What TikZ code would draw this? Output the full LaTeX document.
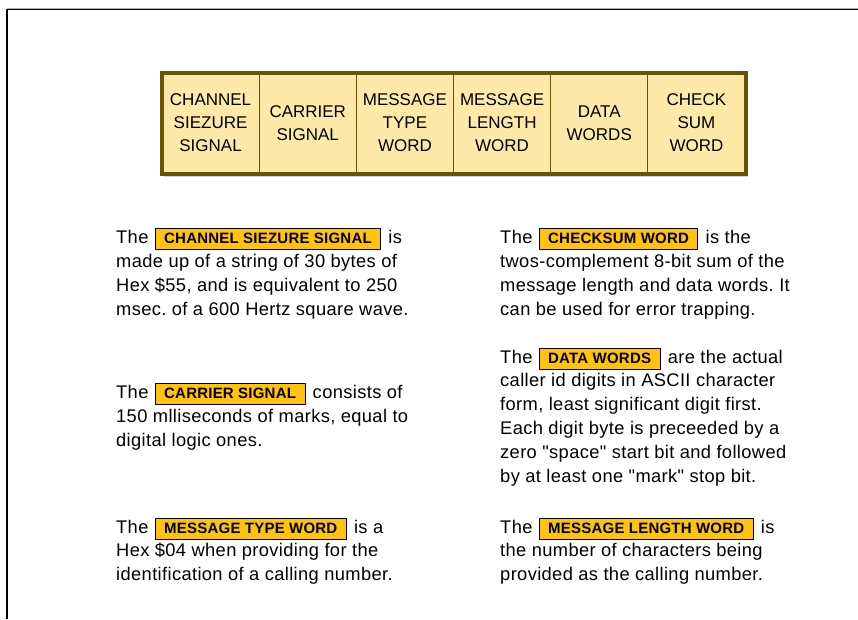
\documentclass[tikz,border=0pt]{standalone}
\usepackage{fontspec}
\setmainfont{Liberation Sans}
\newfontfamily\bodyfont[LetterSpace=2]{Liberation Sans}
\newfontfamily\labfont[LetterSpace=1.5]{Liberation Sans}
\definecolor{hdrfill}{RGB}{255,233,168}
\definecolor{hdrline}{RGB}{108,84,0}
\definecolor{labfill}{RGB}{255,194,14}
\frenchspacing
\tikzset{
  cell/.style={draw=hdrline, line width=1pt, fill=hdrfill, minimum width=97.17pt,
    minimum height=100pt, inner sep=0pt, align=center, font=\fontsize{17}{23}\selectfont},
  txt/.style={anchor=base west, inner sep=0pt, font=\bodyfont\fontsize{18.3}{23}\selectfont},
  lab/.style={anchor=base west, draw=black, line width=1pt, fill=labfill, inner xsep=9pt,
    inner ysep=4pt, text height=11pt, text depth=2pt, font=\labfont\fontsize{15}{18}\selectfont\bfseries},
}
\begin{document}
\begin{tikzpicture}[x=1pt,y=-1pt]
\useasboundingbox (0,0) rectangle (858,619);
% page frame
\draw[gray!60, line width=1pt] (7,8) -- (858,8);
\draw[black, line width=1.2pt] (7,619) -- (7,9.5) -- (858,9.5);
% header
\foreach \i/\t in {1/{CHANNEL\\SIEZURE\\SIGNAL},2/{CARRIER\\SIGNAL},3/{MESSAGE\\TYPE\\WORD},
                   4/{MESSAGE\\LENGTH\\WORD},5/{DATA\\WORDS},6/{CHECK\\SUM\\WORD}}{
  \node[cell] (c\i) at ({162+97.17*(\i-0.5)},123) {\t};
}
\draw[gray!35, line width=1.5pt] ([xshift=2pt,yshift=-3pt]c1.south west) -- ([xshift=2pt,yshift=-3pt]c6.south east);
\draw[hdrline, line width=4pt] (c1.north west) rectangle (c6.south east);

% Channel siezure signal
\node[txt] (a0) at (116,243) {The};
\node[lab, xshift=6pt] (al) at (a0.base east) {CHANNEL SIEZURE SIGNAL};
\node[txt, xshift=7pt] (ar) at (al.base east) {is};
\node[txt] (a1) at (116,267) {made up of a string of 30 bytes of};
\node[txt] (a2) at (116,291) {Hex \$55, and is equivalent to 250};
\node[txt] (a3) at (116,315) {msec. of a 600 Hertz square wave.};

% Checksum word
\node[txt] (b0) at (500,243) {The};
\node[lab, xshift=6pt] (bl) at (b0.base east) {CHECKSUM WORD};
\node[txt, xshift=7pt] (br) at (bl.base east) {is the};
\node[txt] (b1) at (500,267) {twos-complement 8-bit sum of the};
\node[txt] (b2) at (500,291) {message length and data words. It};
\node[txt] (b3) at (500,315) {can be used for error trapping.};

% Data words
\node[txt] (d0) at (500,363) {The};
\node[lab, xshift=6pt] (dl) at (d0.base east) {DATA WORDS};
\node[txt, xshift=7pt] (dr) at (dl.base east) {are the actual};
\node[txt] (d1) at (500,386.8) {caller id digits in ASCII character};
\node[txt] (d2) at (500,410.6) {form, least significant digit first.};
\node[txt] (d3) at (500,434.4) {Each digit byte is preceeded by a};
\node[txt] (d4) at (500,458.2) {zero {\char34}space{\char34} start bit and followed};
\node[txt] (d5) at (500,482) {by at least one {\char34}mark{\char34} stop bit.};

% Carrier signal
\node[txt] (e0) at (116,398) {The};
\node[lab, xshift=6pt] (el) at (e0.base east) {CARRIER SIGNAL};
\node[txt, xshift=7pt] (er) at (el.base east) {consists of};
\node[txt] (e1) at (116,422) {150 mlliseconds of marks, equal to};
\node[txt] (e2) at (116,446) {digital logic ones.};

% Message type word
\node[txt] (f0) at (116,533) {The};
\node[lab, xshift=6pt] (fl) at (f0.base east) {MESSAGE TYPE WORD};
\node[txt, xshift=7pt] (fr) at (fl.base east) {is a};
\node[txt] (f1) at (116,556.5) {Hex \$04 when providing for the};
\node[txt] (f2) at (116,580) {identification of a calling number.};

% Message length word
\node[txt] (g0) at (500,533) {The};
\node[lab, xshift=6pt] (gl) at (g0.base east) {MESSAGE LENGTH WORD};
\node[txt, xshift=7pt] (gr) at (gl.base east) {is};
\node[txt] (g1) at (500,556.5) {the number of characters being};
\node[txt] (g2) at (500,580) {provided as the calling number.};
\end{tikzpicture}
\end{document}
